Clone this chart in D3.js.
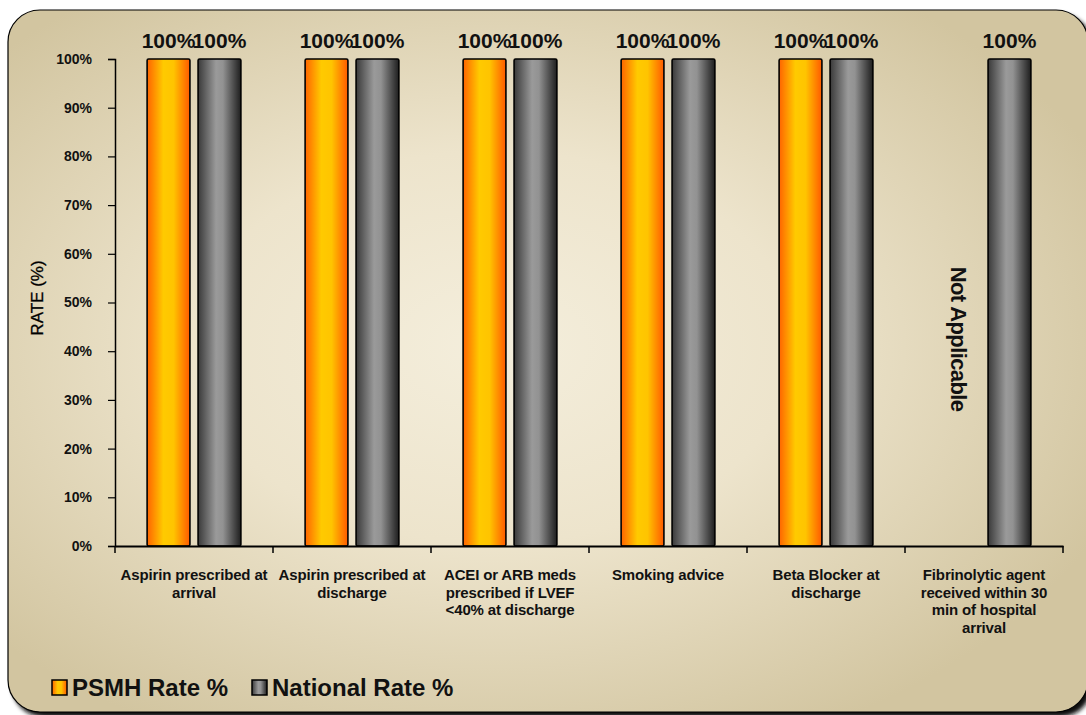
<!DOCTYPE html>
<html>
<head>
<meta charset="utf-8">
<script src="https://cdn.jsdelivr.net/npm/d3@7"></script>
<style>
  body { margin: 0; background: #fff; }
  text { font-family: "Liberation Sans", Arial, sans-serif; }
</style>
</head>
<body>
<div id="chart-root"></div>
<script>
// chart values
var categories = [
  "Aspirin prescribed at\narrival",
  "Aspirin prescribed at\ndischarge",
  "ACEI or ARB meds\nprescribed if LVEF\n<40% at discharge",
  "Smoking advice",
  "Beta Blocker at\ndischarge",
  "Fibrinolytic  agent\nreceived within 30\nmin of hospital\narrival"
];
var psmhRate     = [100, 100, 100, 100, 100, null];
var nationalRate = [100, 100, 100, 100, 100, 100];
var seriesNames  = ["PSMH Rate %", "National Rate %"];
var yTicks       = [0, 10, 20, 30, 40, 50, 60, 70, 80, 90, 100];
var naLabel      = "Not Applicable";

(function () {
  var W = 1086, H = 715;
  var plot = { left: 115, right: 1063, top: 59, bottom: 546 };

  var svg = d3.select("#chart-root")
    .append("svg")
      .attr("width", W)
      .attr("height", H);

  var defs = svg.append("defs");

  // background gradient
  var bg = defs.append("radialGradient")
      .attr("id", "bg")
      .attr("cx", "45%").attr("cy", "48%").attr("r", "62%");
  bg.append("stop").attr("offset", "0%").attr("stop-color", "#f4eedc");
  bg.append("stop").attr("offset", "45%").attr("stop-color", "#ede4cc");
  bg.append("stop").attr("offset", "100%").attr("stop-color", "#d2c5a0");

  // bar gradients
  var gOr = defs.append("linearGradient").attr("id", "orange")
      .attr("x1", "0%").attr("x2", "100%").attr("y1", "0%").attr("y2", "0%");
  gOr.append("stop").attr("offset", "0%").attr("stop-color", "#ff6400");
  gOr.append("stop").attr("offset", "38%").attr("stop-color", "#ffca00");
  gOr.append("stop").attr("offset", "62%").attr("stop-color", "#ffc400");
  gOr.append("stop").attr("offset", "100%").attr("stop-color", "#ff5a00");

  var gGr = defs.append("linearGradient").attr("id", "gray")
      .attr("x1", "0%").attr("x2", "100%").attr("y1", "0%").attr("y2", "0%");
  gGr.append("stop").attr("offset", "0%").attr("stop-color", "#3a3a3a");
  gGr.append("stop").attr("offset", "42%").attr("stop-color", "#9a9a9a");
  gGr.append("stop").attr("offset", "58%").attr("stop-color", "#929292");
  gGr.append("stop").attr("offset", "100%").attr("stop-color", "#1e1e1e");

  var shadow = defs.append("filter").attr("id", "shadow")
      .attr("x", "-5%").attr("y", "-5%").attr("width", "110%").attr("height", "110%");
  shadow.append("feGaussianBlur").attr("stdDeviation", 2);

  // frame with shadow
  svg.append("rect")
      .attr("x", 12).attr("y", 14).attr("width", 1080).attr("height", 703)
      .attr("rx", 32)
      .attr("fill", "#111")
      .attr("filter", "url(#shadow)");
  svg.append("rect")
      .attr("x", 8).attr("y", 10).attr("width", 1080).attr("height", 702)
      .attr("rx", 32)
      .attr("fill", "url(#bg)")
      .attr("stroke", "#000")
      .attr("stroke-width", 1.2);

  // scales
  var x0 = d3.scaleBand()
      .domain(categories)
      .range([plot.left, plot.right]);
  var x1 = d3.scaleBand()
      .domain(seriesNames)
      .range([0, x0.bandwidth()])
      .paddingInner(0.16)
      .paddingOuter(0.63);
  var y = d3.scaleLinear()
      .domain([0, 100])
      .range([plot.bottom, plot.top]);

  // y axis
  var yAxis = svg.append("g")
      .attr("transform", "translate(" + plot.left + ",0)")
      .call(d3.axisLeft(y)
        .tickValues(yTicks)
        .tickSize(7)
        .tickPadding(16)
        .tickFormat(function (d) { return d + "%"; }));
  yAxis.select(".domain").attr("stroke", "#000").attr("stroke-width", 1.5);
  yAxis.selectAll(".tick line").attr("stroke", "#000").attr("stroke-width", 1.2);
  yAxis.selectAll(".tick text")
      .attr("fill", "#111")
      .style("font-size", "14px")
      .style("font-weight", "bold")
      .style("font-family", "'Liberation Sans', Arial, sans-serif");

  svg.append("text")
      .attr("transform", "translate(43,298) rotate(-90)")
      .attr("text-anchor", "middle")
      .style("font-size", "17px")
      .style("stroke", "#000")
      .style("stroke-width", 0.3)
      .attr("fill", "#000")
      .text("RATE (%)");

  // bars
  var rows = categories.map(function (c, i) {
    return { cat: c, values: [
      { key: seriesNames[0], v: psmhRate[i], fill: "url(#orange)" },
      { key: seriesNames[1], v: nationalRate[i], fill: "url(#gray)" }
    ] };
  });

  var group = svg.append("g").selectAll("g")
    .data(rows)
    .enter().append("g")
      .attr("transform", function (d) { return "translate(" + x0(d.cat) + ",0)"; });

  var bars = group.selectAll("g.bar")
    .data(function (d) { return d.values.filter(function (v) { return v.v != null; }); })
    .enter().append("g").attr("class", "bar");

  bars.append("rect")
      .attr("x", function (d) { return x1(d.key); })
      .attr("y", function (d) { return y(d.v); })
      .attr("width", x1.bandwidth())
      .attr("height", function (d) { return y(0) - y(d.v); })
      .attr("rx", 1.5)
      .attr("fill", function (d) { return d.fill; })
      .attr("stroke", "#000")
      .attr("stroke-width", 1.6);

  bars.append("text")
      .attr("x", function (d) { return x1(d.key) + x1.bandwidth() / 2; })
      .attr("y", function (d) { return y(d.v) - 11; })
      .attr("text-anchor", "middle")
      .style("font-size", "21px")
      .style("font-weight", "bold")
      .attr("fill", "#111")
      .text(function (d) { return d.v + "%"; });

  // not applicable label
  categories.forEach(function (c, i) {
    if (psmhRate[i] == null) {
      var cx = x0(c) + x1(seriesNames[0]) + x1.bandwidth() / 2 - 8;
      svg.append("text")
          .attr("transform", "translate(" + cx + "," + y(42.5) + ") rotate(90)")
          .attr("text-anchor", "middle")
          .style("font-size", "22px")
          .style("font-weight", "bold")
          .style("letter-spacing", "-0.6px")
          .attr("fill", "#111")
          .text(naLabel);
    }
  });

  // x axis
  var xAxis = svg.append("g")
      .attr("transform", "translate(0," + plot.bottom + ")")
      .call(d3.axisBottom(x0).tickSize(0).tickFormat(""));
  xAxis.select(".domain").attr("stroke", "#000").attr("stroke-width", 2);
  var bounds = categories.map(function (c) { return x0(c); }).concat([plot.right]);
  xAxis.selectAll("line.bound")
    .data(bounds)
    .enter().append("line")
      .attr("class", "bound")
      .attr("x1", function (d) { return d; })
      .attr("x2", function (d) { return d; })
      .attr("y1", 0).attr("y2", 7)
      .attr("stroke", "#000")
      .attr("stroke-width", 1.5);

  var catLabels = svg.append("g").selectAll("text")
    .data(categories)
    .enter().append("text")
      .attr("x", function (d) { return x0(d) + x0.bandwidth() / 2; })
      .attr("y", 580)
      .attr("text-anchor", "middle")
      .style("font-size", "15px")
      .style("font-weight", "bold")
      .style("letter-spacing", "-0.15px")
      .attr("fill", "#111");
  catLabels.each(function (d) {
    var t = d3.select(this);
    d.split("\n").forEach(function (line, k) {
      t.append("tspan")
          .attr("x", x0(d) + x0.bandwidth() / 2)
          .attr("dy", k === 0 ? 0 : 17.5)
          .text(line);
    });
  });

  // legend
  var legendX = [52, 252];
  var legend = svg.append("g").selectAll("g")
    .data(seriesNames)
    .enter().append("g")
      .attr("transform", function (d, i) { return "translate(" + legendX[i] + ",680)"; });
  legend.append("rect")
      .attr("width", 15).attr("height", 15)
      .attr("fill", function (d, i) { return i === 0 ? "url(#orange)" : "url(#gray)"; })
      .attr("stroke", "#000")
      .attr("stroke-width", 1.5);
  legend.append("text")
      .attr("x", 20).attr("y", 16)
      .style("font-size", "24px")
      .style("font-weight", "bold")
      .attr("fill", "#111")
      .text(function (d) { return d; });
})();
</script>
</body>
</html>
